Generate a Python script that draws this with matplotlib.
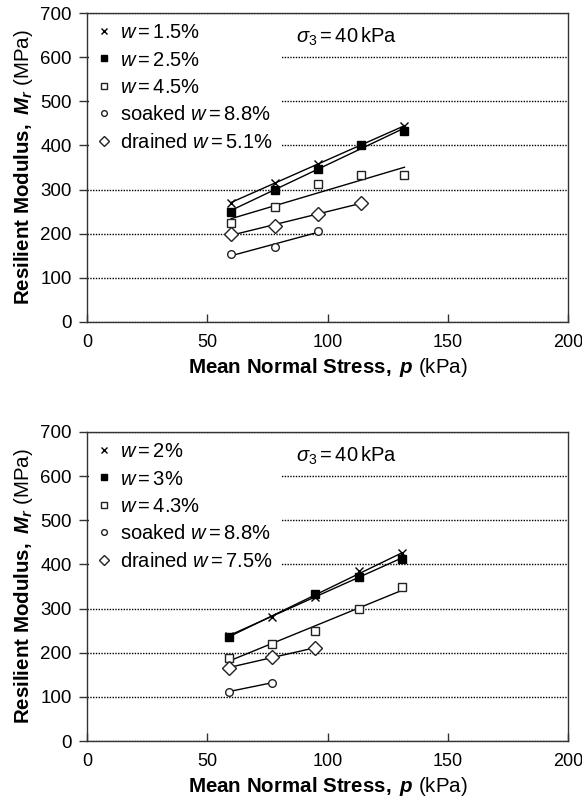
import matplotlib
matplotlib.use("Agg")
import matplotlib.pyplot as plt
import numpy as np

plt.rcParams["font.family"] = ["Liberation Sans", "DejaVu Sans"]
plt.rcParams["mathtext.fontset"] = "custom"
plt.rcParams["mathtext.rm"] = "Liberation Sans"
plt.rcParams["mathtext.it"] = "Liberation Sans:italic"
plt.rcParams["mathtext.bf"] = "Liberation Sans:bold"
plt.rcParams["mathtext.bfit"] = "Liberation Sans:italic:bold"

# ---- data (p in kPa, Mr in MPa) ----
# top panel
top_labels = [r"$w=1.5\%$", r"$w=2.5\%$", r"$w=4.5\%$",
              r"soaked $w=8.8\%$", r"drained $w=5.1\%$"]
top_p = [
    [60, 78, 96, 114, 132],
    [60, 78, 96, 114, 132],
    [60, 78, 96, 114, 132],
    [60, 78, 96],
    [60, 78, 96, 114],
]
top_mr = [
    [269, 316, 359, 402, 443],
    [250, 300, 347, 402, 432],
    [224, 260, 312, 333, 333],
    [153, 171, 206],
    [199, 217, 245, 270],
]

# bottom panel
bot_labels = [r"$w=2\%$", r"$w=3\%$", r"$w=4.3\%$",
              r"soaked $w=8.8\%$", r"drained $w=7.5\%$"]
bot_p = [
    [59, 77, 95, 113, 131],
    [59, 95, 113, 131],
    [59, 77, 95, 113, 131],
    [59, 77],
    [59, 77, 95],
]
bot_mr = [
    [238, 282, 327, 384, 425],
    [236, 332, 371, 412],
    [189, 219, 250, 298, 350],
    [112, 132],
    [166, 190, 211],
]

STYLES = [
    dict(marker="x", ms=6, mfc="black", mec="black", mew=1.0),
    dict(marker="s", ms=6, mfc="black", mec="black", mew=1.0),
    dict(marker="s", ms=6, mfc="white", mec="#222222", mew=1.0),
    dict(marker="o", ms=5.5, mfc="white", mec="#222222", mew=1.0),
    dict(marker="D", ms=7, mfc="white", mec="#222222", mew=1.0),
]


def draw_panel(ax, labels, ps, mrs):
    for lab, p, mr, st in zip(labels, ps, mrs, STYLES):
        p = np.asarray(p, float)
        mr = np.asarray(mr, float)
        k, b = np.polyfit(p, mr, 1)
        xx = np.array([p.min(), p.max()])
        ax.plot(xx, k * xx + b, color="black", lw=1.0, zorder=3)
        ax.plot(p, mr, ls="none", label=lab, zorder=4, **st)

    ax.set_xlim(0, 200)
    ax.set_ylim(0, 700)
    ax.set_xticks([0, 50, 100, 150, 200])
    ax.set_yticks(np.arange(0, 701, 100))
    ax.yaxis.grid(True, color="black", linestyle=(0, (1, 1)), lw=1.0, zorder=1)
    ax.set_axisbelow(True)
    ax.tick_params(axis="y", direction="out", length=6, width=1, labelsize=13.5,
                   pad=5, color="#333333")
    ax.tick_params(axis="x", direction="in", length=6, width=1, labelsize=13,
                   pad=9, color="#333333")
    for s in ax.spines.values():
        s.set_color("#333333")
        s.set_linewidth(1.0)

    ax.set_xlabel(r"$\mathbf{Mean\ Normal\ Stress,}\ \mathbfit{p}\ \mathrm{(kPa)}$",
                  fontsize=14.8, labelpad=3)
    ax.set_ylabel(r"$\mathbf{Resilient\ Modulus,}\ \mathbfit{M}_{\mathbfit{r}}\ \mathrm{(MPa)}$",
                  fontsize=14.8, labelpad=4)
    ax.text(87, 646, r"$\sigma_{\mathit{3}}=40\,\mathrm{kPa}$", fontsize=14.5,
            ha="left", va="center", zorder=5)

    leg = ax.legend(loc="upper left", bbox_to_anchor=(0.0, 1.0), fontsize=14.5,
                    frameon=True, fancybox=False, framealpha=1.0,
                    edgecolor="none", facecolor="white",
                    handlelength=0.7, handletextpad=0.45, labelspacing=0.42,
                    borderpad=0.4, borderaxespad=0.1, markerscale=0.75)
    leg.set_zorder(2)


fig = plt.figure(figsize=(5.82, 8.09), dpi=100)
ax1 = fig.add_axes([87 / 582, 1 - 322 / 809, 481 / 582, 309 / 809])
ax2 = fig.add_axes([87 / 582, 1 - 741 / 809, 481 / 582, 309 / 809])

draw_panel(ax1, top_labels, top_p, top_mr)
draw_panel(ax2, bot_labels, bot_p, bot_mr)

fig.savefig("out.png", dpi=100)
